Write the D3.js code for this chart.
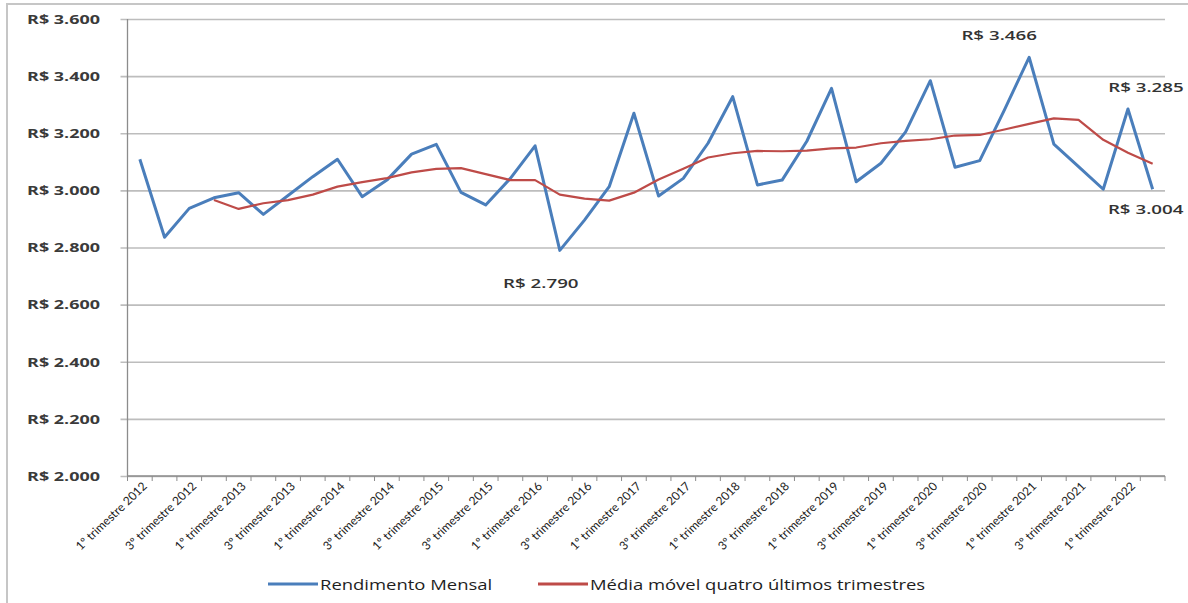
<!DOCTYPE html>
<html>
<head>
<meta charset="utf-8">
<script src="https://cdn.jsdelivr.net/npm/d3@7"></script>
<style>
  html, body { margin: 0; padding: 0; background: #ffffff; }
  svg { display: block; }
</style>
</head>
<body>
<svg id="chart" width="1188" height="603"></svg>
<script>
// Rendimento médio mensal, por trimestre (R$)
const quarters = [
  "1º trimestre 2012","2º trimestre 2012","3º trimestre 2012","4º trimestre 2012",
  "1º trimestre 2013","2º trimestre 2013","3º trimestre 2013","4º trimestre 2013",
  "1º trimestre 2014","2º trimestre 2014","3º trimestre 2014","4º trimestre 2014",
  "1º trimestre 2015","2º trimestre 2015","3º trimestre 2015","4º trimestre 2015",
  "1º trimestre 2016","2º trimestre 2016","3º trimestre 2016","4º trimestre 2016",
  "1º trimestre 2017","2º trimestre 2017","3º trimestre 2017","4º trimestre 2017",
  "1º trimestre 2018","2º trimestre 2018","3º trimestre 2018","4º trimestre 2018",
  "1º trimestre 2019","2º trimestre 2019","3º trimestre 2019","4º trimestre 2019",
  "1º trimestre 2020","2º trimestre 2020","3º trimestre 2020","4º trimestre 2020",
  "1º trimestre 2021","2º trimestre 2021","3º trimestre 2021","4º trimestre 2021",
  "1º trimestre 2022","2º trimestre 2022"
];

const rendimentoMensal = [
  3109, 2836, 2937, 2974, 2992, 2916, 2982, 3048,
  3109, 2978, 3036, 3127, 3161, 2993, 2949, 3042,
  3156, 2790, 2896, 3013, 3270, 2980, 3042, 3165,
  3328, 3019, 3036, 3172, 3357, 3030, 3095, 3205,
  3384, 3081, 3104, 3282, 3466, 3162, 3083, 3004,
  3285, 3004
];

// média móvel dos quatro últimos trimestres (a partir do 4º trimestre 2012)
const mediaMovel = [
  null, null, null, 2966, 2935, 2955, 2966, 2985,
  3013, 3029, 3043, 3063, 3075, 3078, 3057, 3036,
  3036, 2985, 2971, 2964, 2992, 3038, 3076, 3115,
  3130, 3138, 3137, 3139, 3147, 3150, 3165, 3173,
  3179, 3192, 3194, 3213, 3233, 3252, 3247, 3177,
  3132, 3093
];

const yTicks = [2000, 2200, 2400, 2600, 2800, 3000, 3200, 3400, 3600];

// pontos com rótulo de valor
const labeledPoints = [17, 36, 40, 41];

const seriesNames = ["Rendimento Mensal", "Média móvel quatro últimos trimestres"];
const seriesColors = ["#4a7ebb", "#be4b48"];

// ---- layout ----
const W = 1188, H = 603;
const plot = { left: 127.5, right: 1165, top: 19, bottom: 476 };
const SX = 1.3;               // largura extra das letras
const fmt = v => "R$ " + d3.format(",")(v).replace(/,/g, ".");

const svg = d3.select("#chart");

// moldura externa
svg.append("path")
  .attr("d", `M7,${H} L7,4 L${W},4`)
  .attr("fill", "none")
  .attr("stroke", "#c6c6c6")
  .attr("stroke-width", 2);

const x = d3.scaleBand().domain(quarters).range([plot.left, plot.right]).padding(0);
const y = d3.scaleLinear().domain([2000, 3600]).range([plot.bottom, plot.top]);
const cx = d => x(d) + x.bandwidth() / 2;

// linhas de grade + eixo Y
const yAxis = d3.axisLeft(y)
  .tickValues(yTicks)
  .tickSize(-(plot.right - plot.left))
  .tickSizeOuter(0)
  .tickFormat("");
const gy = svg.append("g")
  .attr("transform", `translate(${plot.left},0)`)
  .call(yAxis);
gy.select(".domain").remove();
gy.selectAll(".tick line")
  .attr("x1", -7)
  .attr("stroke", "#bdbdbd")
  .attr("stroke-width", 1.6);

// rótulos do eixo Y
svg.append("g").selectAll("text")
  .data(yTicks)
  .join("text")
  .attr("transform", d => `translate(100,${y(d)}) scale(1.36,1)`)
  .attr("text-anchor", "end")
  .attr("dy", "0.36em")
  .attr("font-family", "'Open Sans', sans-serif")
  .attr("font-weight", 700)
  .attr("font-size", 13.2)
  .attr("fill", "#3a3a3a")
  .text(fmt);

// eixo vertical
svg.append("line")
  .attr("x1", plot.left).attr("x2", plot.left)
  .attr("y1", plot.top).attr("y2", plot.bottom)
  .attr("stroke", "#8c8c8c").attr("stroke-width", 1.3);

// eixo X com marcas entre categorias
const xAxis = d3.axisBottom(x).tickSize(0).tickFormat("");
const gx = svg.append("g")
  .attr("transform", `translate(0,${plot.bottom})`)
  .call(xAxis);
gx.select(".domain")
  .attr("d", `M${plot.left},0H${plot.right}`)
  .attr("stroke", "#8c8c8c").attr("stroke-width", 1.3);
gx.selectAll(".tick").remove();

const boundaries = quarters.map(q => x(q)).concat([plot.right]);
gx.selectAll("line.cat")
  .data(boundaries)
  .join("line")
  .attr("class", "cat")
  .attr("x1", d => d).attr("x2", d => d)
  .attr("y1", 0).attr("y2", 5)
  .attr("stroke", "#8c8c8c").attr("stroke-width", 1);

// rótulos das categorias (um a cada dois trimestres)
svg.append("g").selectAll("text")
  .data(quarters.filter((q, i) => i % 2 === 0))
  .join("text")
  .attr("transform", d => `translate(${cx(d) + 8},${plot.bottom + 11}) scale(1.05,1) rotate(-45)`)
  .attr("text-anchor", "end")
  .attr("font-family", "Lato, sans-serif")
  .attr("font-size", 11.6)
  .attr("fill", "#1c1c1c")
  .text(d => d);

// séries
const lineGen = d3.line()
  .defined(d => d.v != null)
  .x(d => cx(d.q))
  .y(d => y(d.v));

const blueData = quarters.map((q, i) => ({ q, v: rendimentoMensal[i] }));
const redData = quarters.map((q, i) => ({ q, v: mediaMovel[i] }));

svg.append("path")
  .datum(blueData)
  .attr("d", lineGen)
  .attr("fill", "none")
  .attr("stroke", seriesColors[0])
  .attr("stroke-width", 3)
  .attr("stroke-linejoin", "round");

svg.append("path")
  .datum(redData)
  .attr("d", lineGen)
  .attr("fill", "none")
  .attr("stroke", seriesColors[1])
  .attr("stroke-width", 2.2)
  .attr("stroke-linejoin", "round");

// rótulos de valor
const labelOffset = { 17: [-19, 33], 36: [-30, -22], 40: [18, -22], 41: [-7, 20] };
svg.append("g").selectAll("text")
  .data(labeledPoints)
  .join("text")
  .attr("transform", i => `translate(${cx(quarters[i]) + labelOffset[i][0]},${y(rendimentoMensal[i]) + labelOffset[i][1]}) scale(1.42,1)`)
  .attr("text-anchor", "middle")
  .attr("dy", "0.36em")
  .attr("font-family", "'Open Sans', sans-serif")
  .attr("font-weight", 600)
  .attr("font-size", 13.2)
  .attr("fill", "#333333")
  .text(i => fmt(rendimentoMensal[i]));

// legenda
const legend = svg.append("g").attr("transform", "translate(0,584)");
const legendItems = [
  { name: seriesNames[0], color: seriesColors[0], x0: 268 },
  { name: seriesNames[1], color: seriesColors[1], x0: 538 }
];
const li = legend.selectAll("g").data(legendItems).join("g")
  .attr("transform", d => `translate(${d.x0},0)`);
li.append("line")
  .attr("x1", 0).attr("x2", 50)
  .attr("y1", 0).attr("y2", 0)
  .attr("stroke", d => d.color)
  .attr("stroke-width", 3);
li.append("text")
  .attr("transform", `translate(52,6) scale(${SX},1)`)
  .attr("font-family", "'Open Sans', sans-serif")
  .attr("font-size", 14.2)
  .attr("fill", "#1e1e1e")
  .text(d => d.name);
</script>
</body>
</html>
